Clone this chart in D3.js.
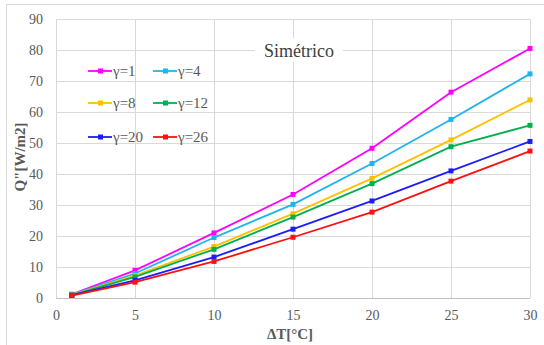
<!DOCTYPE html>
<html><head><meta charset="utf-8">
<script src="https://cdn.jsdelivr.net/npm/d3@7"></script>
<style>body{margin:0;background:#fff}svg{display:block}text{font-family:"Liberation Serif"}</style>
</head><body>
<script>
const xValues = [1, 5, 10, 15, 20, 25, 30];
const seriesNames = ["γ=1", "γ=4", "γ=8", "γ=12", "γ=20", "γ=26"];
const g1  = [1.2, 8.9, 21.0, 33.4, 48.3, 66.4, 80.5];
const g4  = [1.1, 7.9, 19.5, 30.2, 43.4, 57.6, 72.3];
const g8  = [1.0, 7.2, 16.6, 27.2, 38.6, 51.0, 63.9];
const g12 = [0.9, 6.8, 15.7, 26.1, 36.9, 48.8, 55.7];
const g20 = [0.9, 5.7, 13.2, 22.2, 31.3, 41.0, 50.5];
const g26 = [0.8, 5.1, 11.8, 19.6, 27.7, 37.7, 47.4];
const seriesValues = [g1, g4, g8, g12, g20, g26];
const colors = ["#ff00ff", "#1fb4ee", "#ffc000", "#00b050", "#1c1cff", "#ff1010"];
const xTicks = [0, 5, 10, 15, 20, 25, 30];
const yTicks = [0, 10, 20, 30, 40, 50, 60, 70, 80, 90];
const title = "Simétrico";
const xTitle = "ΔT[°C]";
const yTitle = "Q\"[W/m2]";

const W = 544, H = 345;
const FONT = "Liberation Serif";
const svg = d3.select("body").append("svg").attr("width", W).attr("height", H);
svg.append("rect").attr("x", 6.5).attr("y", 4.5).attr("width", 540).attr("height", 345)
  .attr("fill", "#fff").attr("stroke", "#d9d9d9");

const x = d3.scaleLinear().domain([0, 30]).range([56, 530]);
const y = d3.scaleLinear().domain([0, 90]).range([298, 19]);

// gridlines
const grid = svg.append("g");
grid.selectAll(".hg").data(yTicks).join("line")
  .attr("x1", x(0)).attr("x2", x(30)).attr("y1", d => Math.round(y(d)) + 0.5).attr("y2", d => Math.round(y(d)) + 0.5)
  .attr("stroke", d => d === 0 ? "#bfbfbf" : "#d9d9d9").attr("stroke-width", 1);
grid.selectAll(".vg").data(xTicks).join("line")
  .attr("y1", y(0)).attr("y2", y(90)).attr("x1", d => Math.round(x(d)) + 0.5).attr("x2", d => Math.round(x(d)) + 0.5)
  .attr("stroke", "#d9d9d9").attr("stroke-width", 1);

// axes labels via d3 axes
const xAxis = svg.append("g").attr("transform", `translate(0,${y(0)})`)
  .call(d3.axisBottom(x).tickValues(xTicks).tickSize(0).tickPadding(12));
const yAxis = svg.append("g").attr("transform", `translate(${x(0)},0)`)
  .call(d3.axisLeft(y).tickValues(yTicks).tickSize(0).tickPadding(13));
[xAxis, yAxis].forEach(a => {
  a.select(".domain").remove();
  a.attr("font-family", null);
  a.selectAll("text").style("font-family", FONT).attr("font-size", 14).attr("fill", "#595959");
});

// title
const tb = svg.append("g");
tb.append("rect").attr("x", 255).attr("y", 38).attr("width", 88).attr("height", 24).attr("fill", "#fff");
tb.append("text").attr("x", 299).attr("y", 57).attr("text-anchor", "middle")
  .style("font-family", FONT).attr("font-size", 18).attr("fill", "#404040").text(title);

svg.append("text").attr("x", 290).attr("y", 339).attr("text-anchor", "middle")
  .style("font-family", FONT).attr("font-size", 15).attr("font-weight", "bold").attr("fill", "#595959").text(xTitle);
svg.append("text").attr("transform", "translate(25,157) rotate(-90)").attr("text-anchor", "middle")
  .style("font-family", FONT).attr("font-size", 15).attr("font-weight", "bold").attr("fill", "#595959").text(yTitle);

// series
const line = d3.line().x((d, i) => x(xValues[i])).y(d => y(d));
seriesValues.forEach((vals, k) => {
  const g = svg.append("g");
  g.append("path").datum(vals).attr("d", line).attr("fill", "none")
    .attr("stroke", colors[k]).attr("stroke-width", 1.8);
  g.selectAll("rect").data(vals).join("rect")
    .attr("x", (d, i) => x(xValues[i]) - 2.5).attr("y", d => y(d) - 2.5)
    .attr("width", 5).attr("height", 5).attr("fill", colors[k]);
});

// legend
const legX = [88, 153], legY = [71, 103, 137];
seriesNames.forEach((name, k) => {
  const lx = legX[k % 2], ly = legY[Math.floor(k / 2)];
  const g = svg.append("g");
  g.append("line").attr("x1", lx).attr("x2", lx + 24).attr("y1", ly).attr("y2", ly)
    .attr("stroke", colors[k]).attr("stroke-width", 1.8);
  g.append("rect").attr("x", lx + 10).attr("y", ly - 2.5).attr("width", 5).attr("height", 5).attr("fill", colors[k]);
  g.append("text").attr("x", lx + 25).attr("y", ly + 5).style("font-family", FONT).attr("font-size", 15)
    .attr("fill", "#595959").text(name);
});
</script>
</body></html>
